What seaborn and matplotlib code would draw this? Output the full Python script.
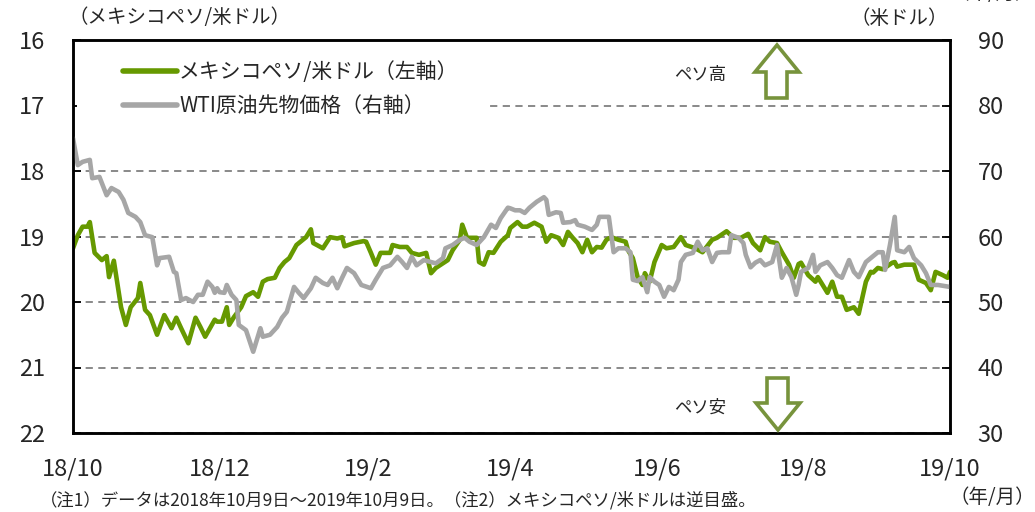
import pandas as pd
import matplotlib
matplotlib.use('Agg')
import matplotlib.pyplot as plt
from matplotlib.patches import Polygon, Rectangle
from matplotlib.transforms import Affine2D
import seaborn as sns

# data (days counted from 2018-10-09)
start_date = '2018-10-09'

peso_days = [0, 2, 4, 6, 7, 9, 12, 14, 15, 17, 20, 22, 24, 27, 28, 30, 32, 35, 38, 41,
             43, 45, 48, 51, 53, 55, 59, 60, 62, 64, 65, 67, 70, 72, 75, 77, 79, 81, 84, 86,
             88, 90, 93, 97, 99, 100, 104, 107, 110, 112, 113, 117, 121, 122, 124, 126, 128, 132, 133, 136,
             139, 141, 144, 147, 149, 151, 156, 158, 161, 162, 164, 166, 168, 169, 171, 173, 175, 178, 181, 182,
             185, 187, 189, 192, 195, 197, 199, 202, 204, 206, 208, 210, 212, 214, 216, 218, 220, 222, 224, 227,
             230, 231, 233, 235, 237, 238, 240, 242, 245, 247, 250, 253, 255, 259, 262, 266, 268, 272, 275, 278,
             281, 283, 286, 288, 290, 293, 295, 298, 300, 302, 303, 306, 309, 310, 314, 316, 318, 320, 322, 325,
             327, 330, 332, 333, 335, 337, 341, 342, 343, 346, 350, 352, 355, 357, 359, 362, 364, 365]
peso_values = [19.18, 18.98, 18.85, 18.85, 18.78, 19.25, 19.36, 19.30, 19.62, 19.37, 20.08, 20.35, 20.08, 19.94, 19.71, 20.12, 20.20, 20.50, 20.20, 20.40,
               20.24, 20.40, 20.63, 20.24, 20.38, 20.53, 20.27, 20.30, 20.30, 20.08, 20.35, 20.23, 20.08, 19.91, 19.85, 19.92, 19.69, 19.65, 19.63, 19.48,
               19.39, 19.33, 19.13, 19.01, 18.89, 19.10, 19.18, 19.01, 19.03, 19.01, 19.15, 19.10, 19.07, 19.08, 19.25, 19.43, 19.25, 19.25, 19.13, 19.16,
               19.16, 19.25, 19.28, 19.25, 19.56, 19.48, 19.36, 19.21, 19.05, 18.82, 19.02, 19.02, 19.02, 19.39, 19.43, 19.24, 19.25, 19.08, 18.98, 18.87,
               18.78, 18.85, 18.85, 18.79, 18.85, 19.08, 18.98, 19.02, 19.13, 18.93, 19.02, 19.10, 19.24, 19.05, 19.24, 19.16, 19.17, 19.05, 19.01, 19.05,
               19.08, 19.21, 19.33, 19.62, 19.74, 19.56, 19.69, 19.39, 19.13, 19.18, 19.16, 19.01, 19.13, 19.18, 19.24, 19.05, 19.02, 18.92, 19.02, 19.02,
               18.96, 19.10, 19.21, 19.01, 19.08, 19.10, 19.24, 19.43, 19.63, 19.42, 19.40, 19.59, 19.69, 19.62, 19.86, 19.69, 19.92, 19.92, 20.12, 20.08,
               20.18, 19.69, 19.54, 19.55, 19.48, 19.50, 19.40, 19.39, 19.46, 19.43, 19.43, 19.66, 19.71, 19.82, 19.54, 19.59, 19.63, 19.54]

wti_days = [0, 2, 4, 7, 8, 11, 14, 16, 19, 21, 23, 26, 28, 30, 33, 35, 36, 40, 42, 43,
            45, 47, 50, 52, 54, 56, 58, 59, 60, 61, 63, 64, 66, 68, 69, 72, 75, 78, 79, 82,
            85, 87, 89, 92, 94, 96, 99, 101, 104, 106, 108, 110, 112, 114, 117, 120, 124, 126, 129, 132,
            135, 137, 139, 141, 143, 146, 149, 151, 154, 155, 158, 161, 163, 165, 168, 171, 174, 176, 178, 181,
            182, 184, 186, 188, 190, 193, 196, 197, 198, 201, 203, 204, 207, 209, 210, 213, 216, 218, 219, 221,
            223, 225, 227, 230, 232, 233, 235, 237, 239, 240, 242, 244, 246, 248, 250, 252, 253, 255, 258, 260,
            262, 264, 266, 268, 270, 273, 274, 277, 279, 280, 282, 284, 286, 288, 291, 293, 295, 297, 299, 301,
            302, 303, 306, 308, 309, 311, 314, 316, 318, 320, 323, 325, 327, 330, 332, 335, 337, 338, 340, 342,
            343, 346, 348, 350, 353, 355, 357, 360, 365]
wti_values = [75.0, 70.9, 71.4, 71.7, 68.9, 69.1, 66.3, 67.4, 66.8, 65.6, 63.6, 63.0, 62.2, 60.2, 59.9, 55.6, 56.7, 56.9, 54.6, 54.4,
              50.3, 50.6, 50.0, 51.1, 51.1, 53.1, 52.3, 51.4, 52.1, 51.5, 51.4, 52.6, 51.1, 50.3, 46.5, 45.7, 42.4, 46.0, 44.7, 45.0,
              46.2, 47.6, 48.5, 52.3, 51.4, 50.6, 52.1, 53.7, 52.9, 52.6, 53.7, 52.1, 53.7, 55.2, 54.4, 52.6, 52.1, 53.4, 55.2, 55.6,
              56.9, 56.1, 55.2, 56.9, 55.6, 56.4, 56.1, 55.9, 56.7, 58.2, 58.7, 59.5, 59.8, 59.2, 58.7, 59.9, 61.8, 61.3, 62.8, 64.4,
              64.3, 64.0, 64.0, 63.6, 64.4, 65.3, 66.0, 65.6, 63.3, 63.7, 63.6, 62.1, 62.2, 62.5, 61.8, 61.5, 61.0, 61.8, 63.0, 63.0,
              63.0, 57.6, 58.2, 58.2, 57.6, 53.4, 53.2, 53.8, 51.5, 53.8, 53.1, 52.6, 50.8, 52.3, 51.8, 53.4, 56.1, 57.2, 57.5, 59.2,
              57.9, 58.2, 56.1, 57.5, 57.6, 57.6, 60.2, 59.8, 59.0, 57.2, 55.3, 56.0, 56.4, 55.6, 56.1, 58.7, 53.7, 55.2, 53.8, 51.1,
              52.6, 54.6, 55.2, 57.2, 54.6, 55.6, 56.1, 55.2, 54.1, 53.7, 56.4, 54.6, 53.8, 56.1, 56.7, 57.6, 57.6, 54.9, 58.7, 63.0,
              57.9, 57.6, 58.4, 56.7, 55.6, 54.4, 52.6, 52.6, 52.3]

tick_dates = ['2018-10-09', '2018-12-09', '2019-02-09', '2019-04-09',
              '2019-06-09', '2019-08-09', '2019-10-09']
tick_labels = ['18/10', '18/12', '19/2', '19/4', '19/6', '19/8', '19/10']
peso_ticks = [16, 17, 18, 19, 20, 21, 22]
wti_ticks = [30, 40, 50, 60, 70, 80, 90]

peso_label = 'メキシコペソ/米ドル（左軸）'
wti_label = 'WTI原油先物価格（右軸）'

GREEN = '#669900'
GREY = '#A6A6A6'
ARROW = '#77933C'

sns.set_style('white')
plt.rcParams['font.family'] = ['Noto Sans CJK JP', 'DejaVu Sans']

start = pd.Timestamp(start_date)
peso = pd.DataFrame({'date': start + pd.to_timedelta(peso_days, unit='D'), 'value': peso_values})
wti = pd.DataFrame({'date': start + pd.to_timedelta(wti_days, unit='D'), 'value': wti_values})

W, H = 1035, 512
fig = plt.figure(figsize=(W / 100, H / 100), dpi=100)
ax = fig.add_axes([73 / W, 1 - 433 / H, (950 - 73) / W, (433 - 40) / H])
ax2 = ax.twinx()

sns.lineplot(data=peso, x='date', y='value', ax=ax, color=GREEN, linewidth=3.3, label=peso_label)
sns.lineplot(data=wti, x='date', y='value', ax=ax2, color=GREY, linewidth=3.3, label=wti_label)

ax.set_xlim(pd.Timestamp(tick_dates[0]), pd.Timestamp(tick_dates[-1]))
ax.set_ylim(22, 16)
ax2.set_ylim(30, 90)
ax.set_yticks(peso_ticks)
ax2.set_yticks(wti_ticks)
ax.set_xticks(pd.to_datetime(tick_dates))
ax.set_xticklabels(tick_labels)
ax.set_xlabel('')
ax.set_ylabel('')
ax2.set_ylabel('')

ax.yaxis.grid(True, linestyle=(0, (4, 3)), color='#808080', linewidth=1.3)
ax.xaxis.grid(False)
ax2.grid(False)

for a in (ax, ax2):
    for s in a.spines.values():
        s.set_visible(True)
        s.set_color('black')
        s.set_linewidth(1.8)
ax.tick_params(axis='both', direction='in', length=6, width=1.3, color='black', labelsize=17)
ax.tick_params(axis='y', pad=20)
ax.tick_params(axis='x', pad=18)
ax2.tick_params(axis='y', direction='in', length=6, width=1.3, color='black', labelsize=17, pad=20)

# white block behind the legend hides the 17 gridline up to ~x=490
ax2.add_patch(Rectangle((0.005, 0.80), 0.47, 0.07, transform=ax2.transAxes,
                        facecolor='white', edgecolor='none', zorder=1))

ax.get_legend().remove()
ax2.get_legend().remove()
h1, l1 = ax.get_legend_handles_labels()
h2, l2 = ax2.get_legend_handles_labels()
leg = ax2.legend(h1 + h2, l1 + l2, loc='upper left', bbox_to_anchor=(0.033, 1.0),
                 fontsize=15, frameon=True, facecolor='white', edgecolor='none', framealpha=1,
                 handlelength=2.6, handletextpad=0.1, labelspacing=0.6, borderpad=0.5)
for line in leg.get_lines():
    line.set_linewidth(4)

# hollow arrows, drawn in pixel space of the figure
px = Affine2D().scale(1 / W, -1 / H).translate(0, 1) + fig.transFigure
up = [(777, 45), (799, 72), (787, 72), (787, 98), (766, 98), (766, 72), (755, 72)]
down = [(778, 430), (800, 403), (788, 403), (788, 378), (767, 378), (767, 403), (756, 403)]
for pts in (up, down):
    fig.patches.append(Polygon(pts, closed=True, fill=True, facecolor='white',
                               edgecolor=ARROW, linewidth=2.6, transform=px, zorder=5))

fig.text(700 / W, 1 - 75 / H, 'ペソ高', fontsize=12.5, ha='center', va='center')
fig.text(700 / W, 1 - 408 / H, 'ペソ安', fontsize=12.5, ha='center', va='center')

fig.text(68 / W, 1 - 18 / H, '（メキシコペソ/米ドル）', fontsize=14, ha='left', va='center')
fig.text(948 / W, 1 - 18 / H, '（米ドル）', fontsize=14, ha='right', va='center')
fig.text(1035 / W, 1 - 497 / H, '（年/月）', fontsize=14, ha='right', va='center')
fig.text(1035 / W, 1 + 6 / H, '（年/月）', fontsize=14, ha='right', va='center')
fig.text(40 / W, 1 - 500 / H, '（注1）データは2018年10月9日～2019年10月9日。（注2）メキシコペソ/米ドルは逆目盛。',
         fontsize=12.5, ha='left', va='center')

fig.savefig('out.png', dpi=100)
plt.close(fig)
